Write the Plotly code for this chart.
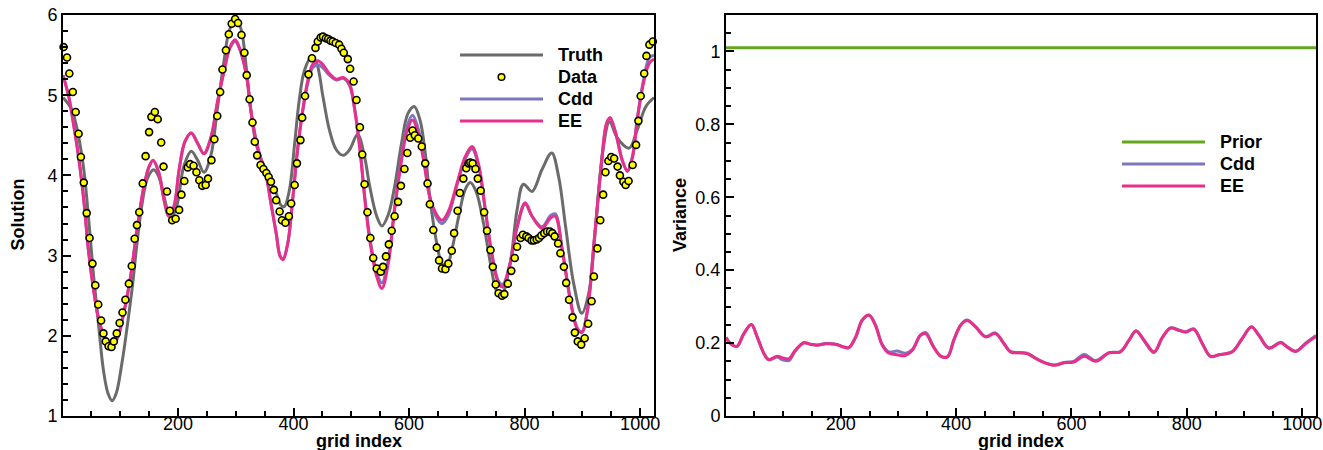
import plotly.graph_objects as go

# ---------------- data ----------------
truth_g = [1, 16, 28, 37, 45, 54, 63, 71, 79, 86, 93, 103, 112, 121, 129, 138, 147, 158, 167, 176, 184, 190,
           199, 210, 223, 234, 245, 257, 268, 280, 289, 300, 309, 318, 326, 335, 347, 358, 370, 378, 384, 393,
           402, 410, 419, 431, 440, 451, 462, 474, 486, 497, 511, 523, 532, 544, 553, 564, 575, 587, 598, 609,
           619, 628, 636, 647, 657, 665, 674, 686, 697, 706, 716, 729, 741, 752, 760, 775, 787, 798, 813, 830,
           847, 859, 871, 885, 899, 911, 923, 935, 947, 961, 981, 995, 1010, 1024]
truth_v = [4.97, 4.82, 4.48, 4.07, 3.49, 2.74, 2.11, 1.57, 1.28, 1.19, 1.28, 1.66, 2.11, 2.61, 3.15, 3.65, 3.96,
           4.07, 3.98, 3.73, 3.53, 3.49, 3.65, 4.11, 4.30, 4.19, 4.04, 4.25, 4.82, 5.44, 5.81, 5.94, 5.83, 5.36,
           4.82, 4.40, 4.15, 3.98, 3.78, 3.63, 3.61, 3.82, 4.40, 4.94, 5.31, 5.48, 5.40, 4.98, 4.57, 4.32, 4.25,
           4.32, 4.51, 4.23, 3.86, 3.49, 3.37, 3.51, 3.86, 4.40, 4.77, 4.86, 4.69, 4.28, 3.73, 3.19, 2.90, 2.86,
           3.07, 3.49, 3.82, 3.91, 3.80, 3.40, 2.90, 2.55, 2.51, 2.90, 3.57, 3.89, 3.80, 4.07, 4.28, 3.98, 3.36,
           2.65, 2.28, 2.53, 3.36, 4.28, 4.67, 4.46, 4.34, 4.57, 4.86, 4.97]

ee_g = [1, 11, 19, 28, 37, 45, 54, 63, 74, 85, 95, 106, 118, 129, 141, 150, 157, 167, 176, 184, 193, 202, 212,
        223, 234, 245, 257, 268, 280, 290, 299, 306, 318, 326, 335, 344, 353, 361, 370, 377, 382, 390, 399, 407,
        416, 425, 433, 442, 451, 462, 474, 486, 497, 506, 515, 523, 532, 544, 553, 564, 575, 587, 597, 606, 616,
        626, 636, 648, 657, 668, 683, 697, 709, 720, 732, 743, 755, 762, 775, 787, 801, 813, 830, 845, 853, 865,
        880, 891, 899, 909, 920, 932, 942, 948, 958, 969, 978, 987, 995, 1007, 1016, 1024]
ee_v = [5.25, 4.98, 4.65, 4.23, 3.69, 3.07, 2.57, 2.20, 1.97, 1.89, 1.97, 2.28, 2.74, 3.32, 3.86, 4.11, 4.19,
        4.03, 3.69, 3.49, 3.61, 4.07, 4.42, 4.53, 4.40, 4.27, 4.47, 4.90, 5.31, 5.60, 5.69, 5.60, 5.27, 4.82,
        4.44, 4.19, 3.98, 3.65, 3.28, 2.99, 2.95, 3.15, 3.73, 4.32, 4.82, 5.19, 5.38, 5.43, 5.38, 5.27, 5.20,
        5.22, 5.14, 4.82, 4.32, 3.73, 3.19, 2.74, 2.59, 2.90, 3.57, 4.19, 4.57, 4.69, 4.52, 4.15, 3.73, 3.51,
        3.44, 3.55, 3.90, 4.23, 4.36, 4.15, 3.57, 3.03, 2.65, 2.61, 2.90, 3.36, 3.66, 3.49, 3.34, 3.47, 3.49,
        3.07, 2.41, 2.09, 2.04, 2.32, 3.15, 4.07, 4.65, 4.72, 4.52, 4.19, 4.05, 4.23, 4.69, 5.19, 5.40, 5.45]

cdd_g = ee_g
cdd_v = [5.25, 4.98, 4.65, 4.23, 3.69, 3.07, 2.57, 2.20, 1.97, 1.89, 1.97, 2.28, 2.74, 3.32, 3.86, 4.11, 4.19,
         4.03, 3.69, 3.49, 3.61, 4.07, 4.42, 4.53, 4.40, 4.27, 4.47, 4.90, 5.31, 5.59, 5.67, 5.59, 5.27, 4.82,
         4.44, 4.19, 3.98, 3.65, 3.28, 2.99, 2.96, 3.15, 3.73, 4.32, 4.80, 5.16, 5.34, 5.38, 5.34, 5.25, 5.19,
         5.21, 5.12, 4.82, 4.34, 3.76, 3.23, 2.79, 2.66, 2.95, 3.60, 4.22, 4.62, 4.75, 4.58, 4.18, 3.72, 3.47,
         3.40, 3.50, 3.88, 4.20, 4.33, 4.13, 3.57, 3.04, 2.68, 2.64, 2.91, 3.35, 3.64, 3.49, 3.36, 3.50, 3.52,
         3.09, 2.42, 2.10, 2.05, 2.33, 3.15, 4.07, 4.65, 4.72, 4.52, 4.19, 4.06, 4.25, 4.71, 5.23, 5.47, 5.50]

data_g = [2, 8, 12, 18, 23, 28, 32, 37, 42, 47, 52, 57, 62, 67, 71, 75, 80, 85, 89, 94, 99, 104, 109, 115, 120,
          125, 129, 133, 139, 144, 150, 154, 160, 165, 171, 175, 181, 186, 190, 196, 202, 206, 211, 217, 221,
          227, 232, 237, 242, 248, 252, 258, 263, 268, 273, 277, 283, 288, 293, 299, 304, 310, 315, 319, 324,
          329, 333, 337, 343, 348, 353, 357, 361, 366, 370, 376, 380, 386, 392, 396, 402, 406, 412, 415, 420,
          426, 432, 438, 442, 447, 451, 456, 460, 464, 468, 473, 479, 483, 487, 494, 498, 504, 509, 515, 519,
          523, 528, 533, 538, 544, 551, 555, 560, 565, 570, 575, 581, 586, 592, 597, 602, 606, 610, 616, 622,
          628, 632, 636, 642, 648, 652, 657, 663, 668, 674, 678, 684, 688, 694, 699, 703, 706, 710, 715, 719,
          724, 730, 735, 741, 745, 750, 755, 761, 765, 771, 777, 783, 787, 793, 797, 803, 807, 812, 816, 821,
          825, 829, 834, 839, 844, 848, 852, 858, 862, 868, 872, 877, 883, 887, 892, 898, 904, 910, 916, 920,
          926, 931, 936, 940, 945, 950, 955, 961, 965, 971, 975, 980, 987, 993, 997, 1001, 1007, 1011, 1016, 1022]
data_v = [5.60, 5.47, 5.27, 5.04, 4.79, 4.52, 4.23, 3.91, 3.53, 3.22, 2.90, 2.63, 2.39, 2.19, 2.03, 1.93, 1.87,
          1.86, 1.93, 2.03, 2.16, 2.29, 2.45, 2.65, 2.87, 3.21, 3.38, 3.54, 3.90, 4.24, 4.54, 4.73, 4.79, 4.70,
          4.41, 4.11, 3.80, 3.56, 3.44, 3.46, 3.57, 3.76, 3.93, 4.10, 4.14, 4.12, 4.04, 3.94, 3.87, 3.88, 3.96,
          4.19, 4.45, 4.74, 5.04, 5.32, 5.56, 5.76, 5.89, 5.95, 5.90, 5.75, 5.53, 5.25, 4.95, 4.66, 4.42, 4.25,
          4.13, 4.08, 4.03, 3.98, 3.92, 3.82, 3.69, 3.55, 3.44, 3.41, 3.49, 3.65, 3.88, 4.15, 4.44, 4.72, 4.99,
          5.26, 5.46, 5.59, 5.67, 5.72, 5.73, 5.71, 5.70, 5.68, 5.67, 5.65, 5.63, 5.58, 5.53, 5.45, 5.33, 5.17,
          4.94, 4.60, 4.26, 3.89, 3.54, 3.22, 2.97, 2.84, 2.80, 2.86, 2.99, 3.14, 3.31, 3.49, 3.67, 3.87, 4.08,
          4.28, 4.47, 4.56, 4.50, 4.46, 4.36, 4.15, 3.90, 3.64, 3.32, 3.10, 2.94, 2.84, 2.83, 2.90, 3.06, 3.28,
          3.56, 3.78, 3.96, 4.09, 4.15, 4.16, 4.15, 4.08, 3.96, 3.81, 3.54, 3.31, 3.07, 2.86, 2.64, 2.53, 2.50,
          2.52, 2.65, 2.81, 2.97, 3.11, 3.22, 3.26, 3.24, 3.22, 3.19, 3.19, 3.20, 3.22, 3.25, 3.28, 3.30, 3.30,
          3.28, 3.24, 3.15, 3.03, 2.86, 2.66, 2.45, 2.23, 2.04, 1.93, 1.89, 1.97, 2.15, 2.43, 2.74, 3.09, 3.44,
          3.76, 4.04, 4.18, 4.23, 4.21, 4.11, 4.00, 3.92, 3.88, 3.93, 4.13, 4.38, 4.68, 4.99, 5.27, 5.49, 5.63,
          5.67]

prior_g = [1, 1024]
prior_v = [1.01, 1.01]

var_g = [1, 9, 20, 32, 45, 55, 67, 75, 90, 98, 110, 121, 136, 147, 159, 174, 191, 205, 214, 226, 237, 249, 260,
         272, 283, 298, 312, 324, 338, 347, 361, 373, 385, 396, 408, 419, 434, 451, 468, 483, 494, 512, 523, 546,
         570, 587, 604, 622, 642, 665, 685, 700, 712, 726, 743, 758, 772, 786, 798, 812, 827, 841, 856, 879, 896,
         912, 925, 942, 963, 974, 989, 1006, 1024]
var_ee = [0.215, 0.198, 0.191, 0.226, 0.251, 0.217, 0.171, 0.155, 0.164, 0.160, 0.157, 0.180, 0.201, 0.197,
          0.194, 0.198, 0.197, 0.189, 0.187, 0.217, 0.262, 0.276, 0.249, 0.194, 0.173, 0.168, 0.166, 0.180,
          0.221, 0.226, 0.189, 0.164, 0.162, 0.208, 0.249, 0.262, 0.244, 0.217, 0.226, 0.198, 0.176, 0.173,
          0.171, 0.151, 0.139, 0.146, 0.148, 0.164, 0.150, 0.173, 0.176, 0.208, 0.233, 0.208, 0.176, 0.217,
          0.241, 0.235, 0.230, 0.238, 0.198, 0.164, 0.168, 0.176, 0.212, 0.244, 0.221, 0.186, 0.201, 0.189,
          0.177, 0.198, 0.218]
var_cdd = [0.215, 0.198, 0.191, 0.226, 0.251, 0.217, 0.170, 0.154, 0.162, 0.155, 0.152, 0.178, 0.201, 0.197,
           0.195, 0.199, 0.197, 0.190, 0.188, 0.217, 0.263, 0.277, 0.250, 0.196, 0.176, 0.178, 0.172, 0.182,
           0.222, 0.229, 0.190, 0.165, 0.163, 0.209, 0.250, 0.263, 0.245, 0.218, 0.228, 0.199, 0.177, 0.174,
           0.172, 0.152, 0.140, 0.147, 0.150, 0.169, 0.152, 0.174, 0.177, 0.209, 0.234, 0.206, 0.174, 0.216,
           0.242, 0.236, 0.231, 0.239, 0.199, 0.163, 0.168, 0.177, 0.213, 0.245, 0.222, 0.187, 0.202, 0.190,
           0.178, 0.200, 0.221]

x_ticks = [200, 400, 600, 800, 1000]

# ---------------- styles ----------------
W, H = 1323, 450
C_TRUTH = "#6b6b6b"
C_CDD = "#7a76c0"
C_EE = "#e8308a"
C_PRIOR = "#66a61e"
FONT = "Liberation Sans, Arial, Helvetica, sans-serif"
LW = 3


def px(x):
    return x / W


def py(y):
    return 1 - y / H


fig = go.Figure()

# left panel
fig.add_trace(go.Scatter(x=truth_g, y=truth_v, mode="lines", line=dict(color=C_TRUTH, width=LW, shape="spline"),
                         name="Truth", xaxis="x", yaxis="y"))
fig.add_trace(go.Scatter(x=cdd_g, y=cdd_v, mode="lines", line=dict(color=C_CDD, width=LW, shape="spline"),
                         name="Cdd", xaxis="x", yaxis="y"))
fig.add_trace(go.Scatter(x=ee_g, y=ee_v, mode="lines", line=dict(color=C_EE, width=LW, shape="spline"),
                         name="EE", xaxis="x", yaxis="y"))
fig.add_trace(go.Scatter(x=data_g, y=data_v, mode="markers",
                         marker=dict(size=7, color="#ffff00", line=dict(color="black", width=1.6)),
                         name="Data", cliponaxis=False, xaxis="x", yaxis="y"))

# right panel
fig.add_trace(go.Scatter(x=prior_g, y=prior_v, mode="lines", line=dict(color=C_PRIOR, width=LW),
                         name="Prior", xaxis="x2", yaxis="y2"))
fig.add_trace(go.Scatter(x=var_g, y=var_cdd, mode="lines", line=dict(color=C_CDD, width=LW, shape="spline"),
                         name="Cdd", xaxis="x2", yaxis="y2"))
fig.add_trace(go.Scatter(x=var_g, y=var_ee, mode="lines", line=dict(color=C_EE, width=LW, shape="spline"),
                         name="EE", xaxis="x2", yaxis="y2"))

ydom = [py(416), py(15)]
common_x = dict(range=[1, 1024], tickmode="array", tickvals=x_ticks, ticks="inside", ticklen=8, tickwidth=2,
                tickcolor="black", showline=True, linecolor="black", linewidth=2, mirror=True, showgrid=False,
                zeroline=False, automargin=False, tickfont=dict(family=FONT, size=18, color="black"),
                ticklabelstandoff=-10,
                minor=dict(tickmode="array",
                           tickvals=[v for v in range(50, 1024, 50) if v not in x_ticks],
                           ticks="inside", ticklen=5, tickwidth=1.5, tickcolor="black", showgrid=False))
common_y = dict(ticks="inside", ticklen=8, tickwidth=2, tickcolor="black", showline=True, linecolor="black",
                linewidth=2, mirror=True, showgrid=False, zeroline=False, automargin=False,
                tickfont=dict(family=FONT, size=18, color="black"))

fig.update_layout(
    width=W, height=H, margin=dict(l=0, r=0, t=0, b=0), paper_bgcolor="white", plot_bgcolor="white",
    showlegend=False,
    xaxis=dict(domain=[px(63), px(654)], anchor="y", **common_x),
    yaxis=dict(domain=ydom, anchor="x", range=[1, 6], dtick=1, tick0=0,
               minor=dict(dtick=0.2, ticks="inside", ticklen=5, tickwidth=1.5, tickcolor="black", showgrid=False),
               **common_y),
    xaxis2=dict(domain=[px(726), px(1316)], anchor="y2", **common_x),
    yaxis2=dict(domain=ydom, anchor="x2", range=[0, 1.1], dtick=0.2, tick0=0,
                minor=dict(dtick=0.05, ticks="inside", ticklen=5, tickwidth=1.5, tickcolor="black", showgrid=False),
                **common_y),
)

# axis titles
ann = []
tf = dict(family=FONT, size=18, color="black")
ann.append(dict(text="<b>grid index</b>", x=px(358.5), y=py(441), xref="paper", yref="paper", showarrow=False,
                font=tf, xanchor="center", yanchor="middle"))
ann.append(dict(text="<b>grid index</b>", x=px(1021), y=py(441), xref="paper", yref="paper", showarrow=False,
                font=tf, xanchor="center", yanchor="middle"))
ann.append(dict(text="<b>Solution</b>", x=px(17.5), y=py(215), xref="paper", yref="paper", showarrow=False,
                font=tf, textangle=-90, xanchor="center", yanchor="middle"))
ann.append(dict(text="<b>Variance</b>", x=px(680), y=py(215), xref="paper", yref="paper", showarrow=False,
                font=tf, textangle=-90, xanchor="center", yanchor="middle"))

# manual legends
shapes = []
left_items = [("Truth", C_TRUTH, 55, "line"), ("Data", None, 77, "marker"), ("Cdd", C_CDD, 99, "line"),
              ("EE", C_EE, 121, "line")]
for label, col, yy, kind in left_items:
    if kind == "line":
        shapes.append(dict(type="line", xref="paper", yref="paper", x0=px(460), x1=px(543), y0=py(yy), y1=py(yy),
                           line=dict(color=col, width=LW)))
    else:
        r = 3.3
        shapes.append(dict(type="circle", xref="paper", yref="paper", x0=px(501.5 - r), x1=px(501.5 + r),
                           y0=py(yy + r), y1=py(yy - r), fillcolor="#ffff00", line=dict(color="black", width=1.5)))
    ann.append(dict(text="<b>%s</b>" % label, x=px(556), y=py(yy), xref="paper", yref="paper", showarrow=False,
                    font=tf, xanchor="left", yanchor="middle"))

right_items = [("Prior", C_PRIOR, 142), ("Cdd", C_CDD, 164), ("EE", C_EE, 186)]
for label, col, yy in right_items:
    shapes.append(dict(type="line", xref="paper", yref="paper", x0=px(1122), x1=px(1205), y0=py(yy), y1=py(yy),
                       line=dict(color=col, width=LW)))
    ann.append(dict(text="<b>%s</b>" % label, x=px(1218), y=py(yy), xref="paper", yref="paper", showarrow=False,
                    font=tf, xanchor="left", yanchor="middle"))

fig.update_layout(annotations=ann, shapes=shapes)

fig.write_html("out.html")
